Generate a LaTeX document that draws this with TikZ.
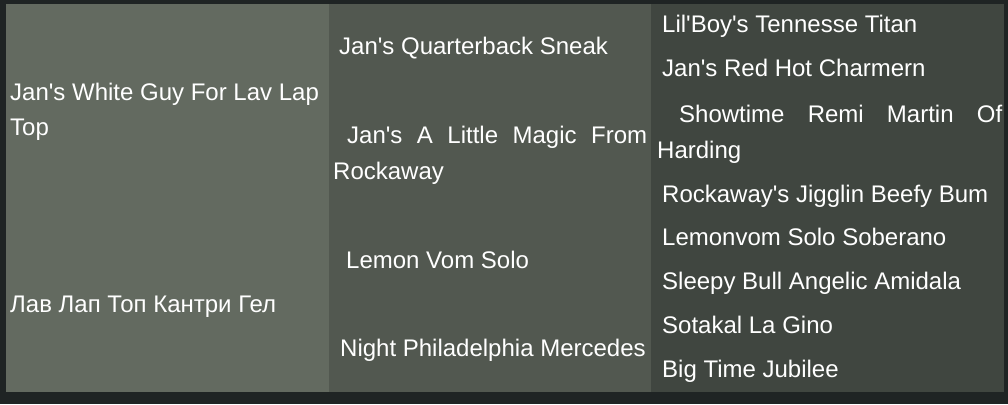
\documentclass[tikz,border=0pt]{standalone}
\usepackage{fontspec}
\setmainfont{Liberation Sans}
\definecolor{pageback}{RGB}{31,36,36}
\definecolor{genone}{RGB}{99,106,96}
\definecolor{gentwo}{RGB}{82,88,80}
\definecolor{genthree}{RGB}{64,70,64}
\newcommand{\apo}{\textquotesingle}
\tikzset{dogname/.style={anchor=base west, inner sep=0pt, text=white,
    font=\fontsize{24}{28}\selectfont}}
\begin{document}
\begin{tikzpicture}[x=1pt,y=-1pt]
	% page
	\fill[pageback] (0,0) rectangle (1008,404);
	\useasboundingbox (0,0) rectangle (1008,404);
	% generation columns
	\fill[genone] (6,4) rectangle (329,392);
	\fill[gentwo] (329,4) rectangle (651,392);
	\fill[genthree] (651,4) rectangle (1004,392);
	% parents
	\node[dogname] (sire) at (10,100) {Jan\apo s White Guy For Lav Lap};
	\node[dogname] (sireb) at (10,135) {Top};
	\node[dogname] (dam) at (10,312) {Лав Лап Топ Кантри Гел};
	% grandparents
	\node[dogname] (ss) at (339,55) {Jan\apo s Quarterback Sneak};
	\node[dogname] (sd) at (347,143) {\makebox[300pt][s]{Jan\apo s A Little Magic From}};
	\node[dogname] (sdb) at (333,179) {Rockaway};
	\node[dogname] (ds) at (346,268) {Lemon Vom Solo};
	\node[dogname] (dd) at (340,356) {Night Philadelphia Mercedes};
	% great grandparents
	\node[dogname] (sss) at (662,33) {Lil\apo Boy\apo s Tennesse Titan};
	\node[dogname] (ssd) at (662,77) {Jan\apo s Red Hot Charmern};
	\node[dogname] (sds) at (679,122) {\makebox[323pt][s]{Showtime Remi Martin Of}};
	\node[dogname] (sdsb) at (657,158) {Harding};
	\node[dogname] (sdd) at (662,202) {Rockaway\apo s Jigglin Beefy Bum};
	\node[dogname] (dss) at (662,245) {Lemonvom Solo Soberano};
	\node[dogname] (dsd) at (662,289) {Sleepy Bull Angelic Amidala};
	\node[dogname] (dds) at (662,333) {Sotakal La Gino};
	\node[dogname] (ddd) at (662,377) {Big Time Jubilee};
\end{tikzpicture}
\end{document}
